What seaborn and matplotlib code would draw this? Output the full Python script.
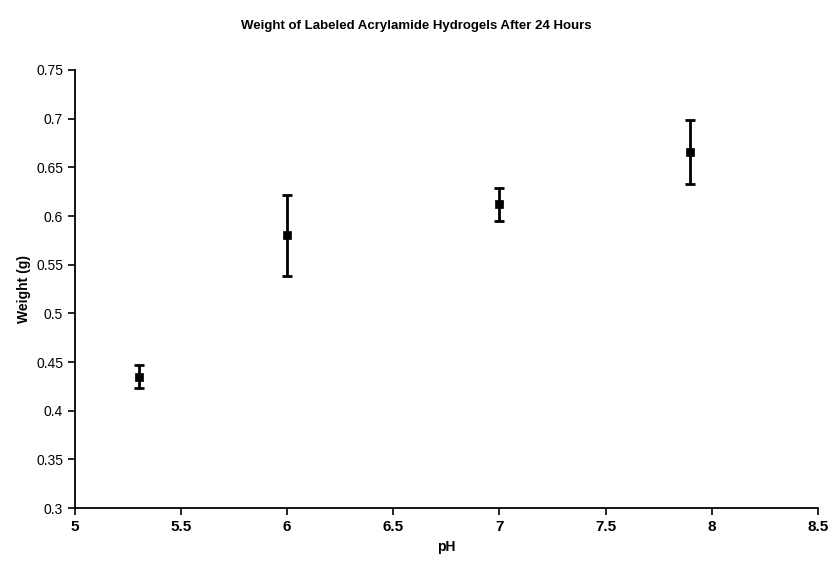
import matplotlib
matplotlib.use("Agg")
import matplotlib.pyplot as plt
import seaborn as sns
import pandas as pd

ph = [5.3, 6.0, 7.0, 7.9]
weight = [0.435, 0.580, 0.612, 0.666]
err = [0.012, 0.042, 0.017, 0.033]
x_ticks = [5, 5.5, 6, 6.5, 7, 7.5, 8, 8.5]
y_ticks = [0.3, 0.35, 0.4, 0.45, 0.5, 0.55, 0.6, 0.65, 0.7, 0.75]

sns.set_style("ticks")
plt.rcParams['font.family'] = ['Liberation Sans', 'DejaVu Sans']
plt.rcParams['text.color'] = 'black'
plt.rcParams['axes.labelcolor'] = 'black'
plt.rcParams['xtick.color'] = 'black'
plt.rcParams['ytick.color'] = 'black'

df = pd.DataFrame({"pH": ph, "Weight": weight, "err": err})

fig = plt.figure(figsize=(8.32, 5.64), dpi=100)
ax = fig.add_axes([0.090, 0.099, 0.893, 0.777])

ax.errorbar(df["pH"], df["Weight"], yerr=df["err"], fmt='none', ecolor='black',
            elinewidth=2.0, capsize=3.5, capthick=2.0, zorder=2)
sns.scatterplot(data=df, x="pH", y="Weight", marker='s', color='black', s=40,
                edgecolor='black', ax=ax, zorder=3)

ax.set_xlim(5, 8.5)
ax.set_ylim(0.3, 0.75)
ax.set_xticks(x_ticks)
ax.set_xticklabels([f"{v:g}" for v in x_ticks], fontsize=11, fontweight='bold')
ax.set_yticks(y_ticks)
ax.set_yticklabels([f"{v:g}" for v in y_ticks], fontsize=10)
ax.tick_params(axis='both', direction='out', length=5, width=1.2, colors='black')
for s in ['top', 'right']:
    ax.spines[s].set_visible(False)
for s in ['left', 'bottom']:
    ax.spines[s].set_linewidth(1.3)
    ax.spines[s].set_color('black')

ax.set_xlabel("pH", fontsize=10, fontweight='bold', color='black')
ax.set_ylabel("Weight (g)", fontsize=10, fontweight='bold', color='black')
fig.suptitle("Weight of Labeled Acrylamide Hydrogels After 24 Hours", fontsize=9.5,
             fontweight='bold', y=0.965, color='black')

fig.savefig("out.png", dpi=100)
